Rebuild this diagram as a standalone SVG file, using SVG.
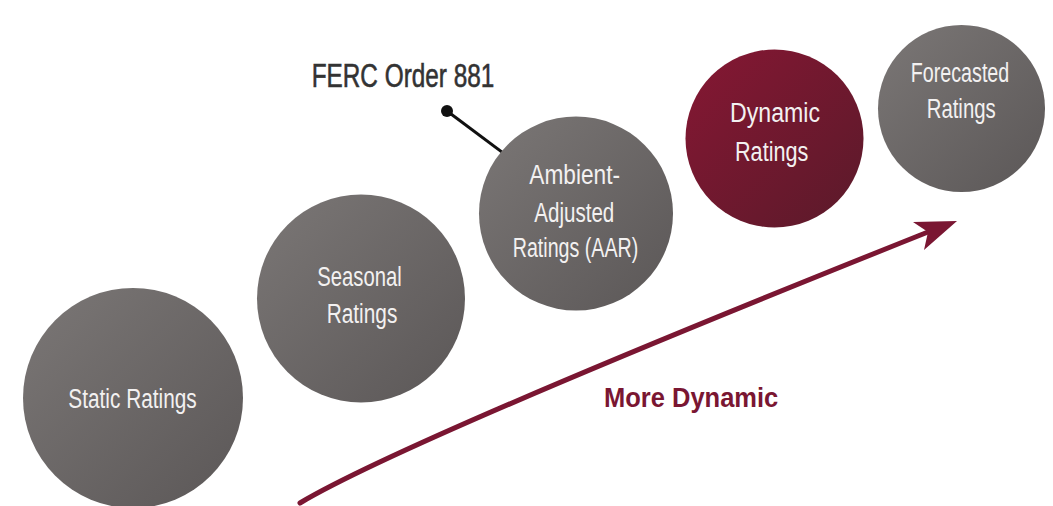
<svg xmlns="http://www.w3.org/2000/svg" width="1053" height="506" viewBox="0 0 1053 506">
  <defs>
    <linearGradient id="gGray" x1="0" y1="0" x2="1" y2="1">
      <stop offset="0" stop-color="#7b7776"/>
      <stop offset="1" stop-color="#5b5757"/>
    </linearGradient>
    <linearGradient id="gRed" x1="0" y1="0" x2="1" y2="1">
      <stop offset="0" stop-color="#861733"/>
      <stop offset="1" stop-color="#5a1a2a"/>
    </linearGradient>
    <style>
      .gray { fill: url(#gGray); }
      .red { fill: url(#gRed); }
      .lbl { font-family: "Liberation Sans", Arial, sans-serif; font-size: 27px; fill: #f3f1f1; }
      .ferc { font-family: "Liberation Sans", Arial, sans-serif; font-size: 33px; fill: #333333; stroke: #333333; stroke-width: 0.6; }
      .more { font-family: "Liberation Sans", Arial, sans-serif; font-size: 28px; font-weight: bold; fill: #7a1632; }
      .conn { fill: none; stroke: #7a1632; stroke-width: 5; stroke-linecap: round; }
    </style>
  </defs>
  <rect width="1053" height="506" fill="#ffffff"/>

  <g id="connectors">
    <line x1="447" y1="111" x2="510" y2="158" stroke="#111111" stroke-width="3"/>
    <circle cx="447" cy="111" r="6" fill="#111111"/>
    <path class="conn" d="M300,503 Q404,441 928,232"/>
    <polygon points="957,221 913,222 928,232 924,250" fill="#7a1632"/>
  </g>

  <g id="static">
    <circle class="gray" cx="133" cy="398" r="110"/>
    <text class="lbl" x="68.3" y="408" textLength="128.4" lengthAdjust="spacingAndGlyphs">Static Ratings</text>
  </g>

  <g id="seasonal">
    <circle class="gray" cx="361" cy="298.5" r="104"/>
    <text class="lbl" x="317.3" y="286" textLength="84.4" lengthAdjust="spacingAndGlyphs">Seasonal</text>
    <text class="lbl" x="326.7" y="323" textLength="70.6" lengthAdjust="spacingAndGlyphs">Ratings</text>
  </g>

  <g id="aar">
    <circle class="gray" cx="576" cy="213.5" r="97"/>
    <text class="lbl" x="529.3" y="184" textLength="90.7" lengthAdjust="spacingAndGlyphs">Ambient-</text>
    <text class="lbl" x="534.3" y="221.5" textLength="80" lengthAdjust="spacingAndGlyphs">Adjusted</text>
    <text class="lbl" x="512.7" y="257" textLength="125.6" lengthAdjust="spacingAndGlyphs">Ratings (AAR)</text>
  </g>

  <g id="dynamic">
    <circle class="red" cx="774.5" cy="138.5" r="89"/>
    <text class="lbl" x="730" y="122" textLength="90" lengthAdjust="spacingAndGlyphs">Dynamic</text>
    <text class="lbl" x="735" y="161" textLength="73.3" lengthAdjust="spacingAndGlyphs">Ratings</text>
  </g>

  <g id="forecasted">
    <circle class="gray" cx="961.5" cy="108.5" r="83.5"/>
    <text class="lbl" x="910.7" y="82" textLength="98.6" lengthAdjust="spacingAndGlyphs">Forecasted</text>
    <text class="lbl" x="926.7" y="118" textLength="69" lengthAdjust="spacingAndGlyphs">Ratings</text>
  </g>

  <g id="ferc">
    <text class="ferc" x="311.7" y="87" textLength="182.6" lengthAdjust="spacingAndGlyphs">FERC Order 881</text>
  </g>

  <g id="more-dynamic">
    <text class="more" x="604" y="407" textLength="174.3" lengthAdjust="spacingAndGlyphs">More Dynamic</text>
  </g>
</svg>
